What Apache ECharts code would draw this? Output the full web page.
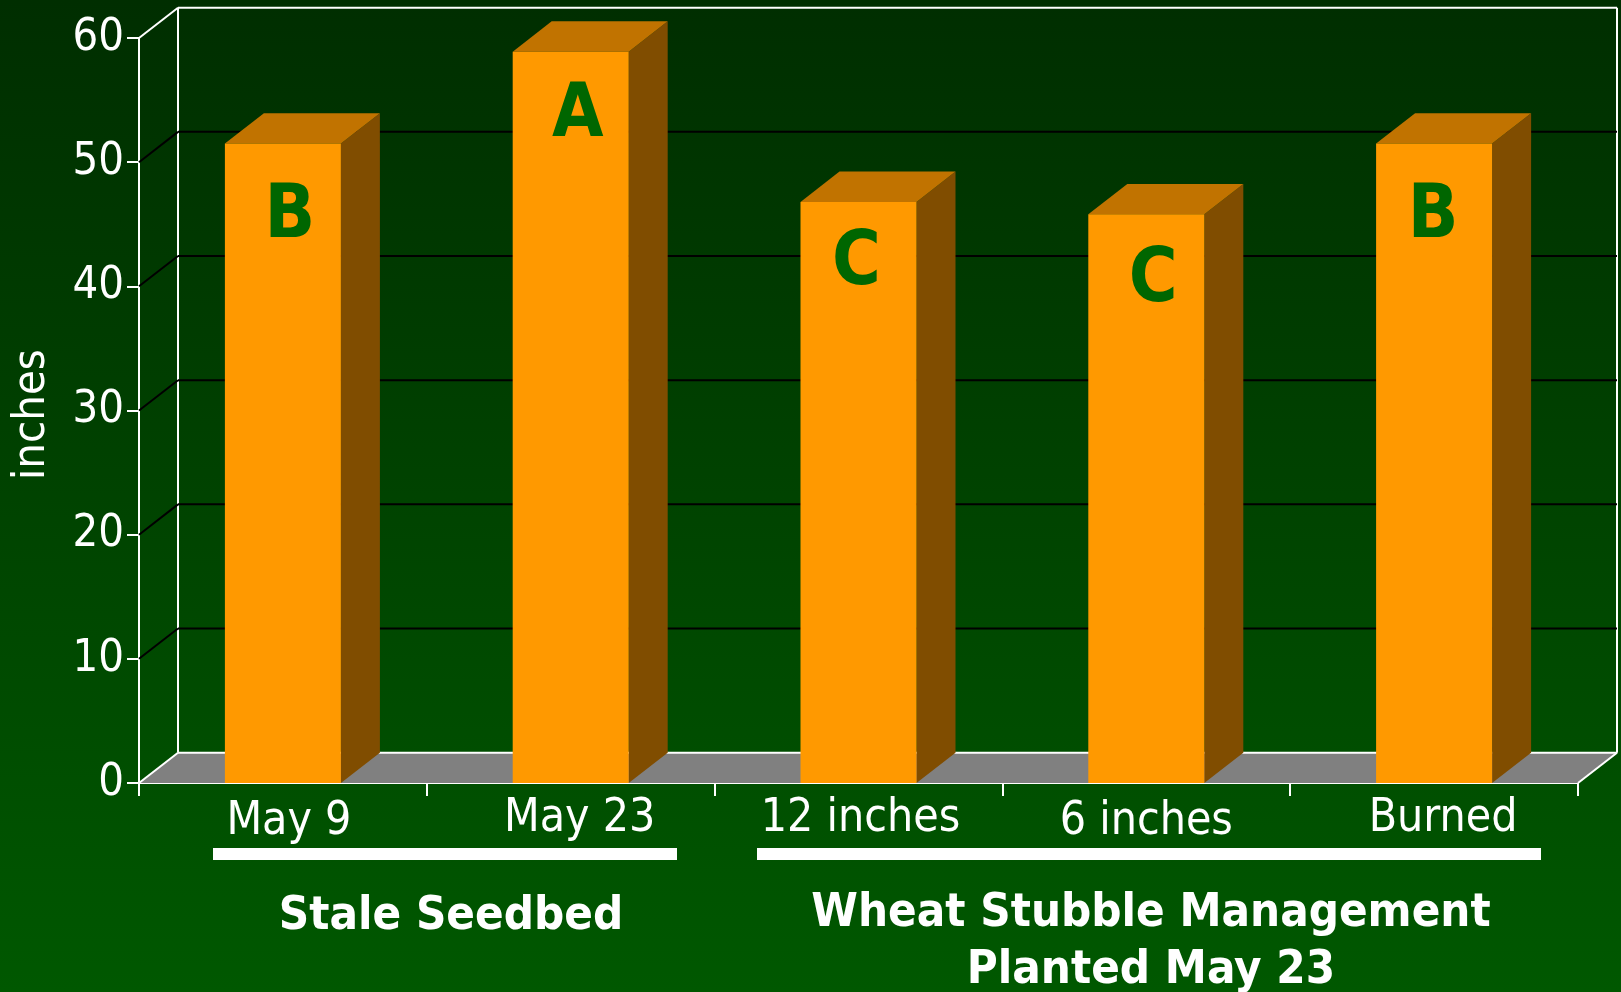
<!DOCTYPE html>
<html><head><meta charset="utf-8">
<style>html,body{margin:0;padding:0;background:#003000}#c{width:1621px;height:992px}</style>
<script src="https://cdn.jsdelivr.net/npm/echarts@6/dist/echarts.min.js"></script>
</head><body><div id="c"></div>
<script>
const categories = ['May 9','May 23','12 inches','6 inches','Burned'];
const values = [51.5, 58.9, 46.8, 45.8, 51.5];
const letters = ['B','A','C','C','B'];
const yTicks = [0,10,20,30,40,50,60];
const groupNames = ['Stale Seedbed','Wheat Stubble Management\nPlanted May 23'];

const FONT = '"DejaVu Sans Condensed","DejaVu Sans",sans-serif';
const depthX = 39, depthY = 30.3;
const barW = 116;
const labelShift = [[6,3],[9,0],[2,0],[0,3],[9,0]];
const letterShift = [[7,74],[7,65],[-2,63],[7,67],[-1,74]];

function poly(pts, fill, stroke){
  return {type:'polygon', shape:{points:pts}, style:{fill, stroke:stroke||null, lineWidth:stroke?1:0}};
}
function line(a,b,color,w){
  return {type:'line', shape:{x1:a[0],y1:a[1],x2:b[0],y2:b[1]}, style:{stroke:color,lineWidth:w}};
}
const chart = echarts.init(document.getElementById('c'), null, {renderer:'canvas'});
chart.setOption({
  animation:false,
  backgroundColor:{type:'linear',x:0,y:0,x2:0,y2:1,colorStops:[{offset:0,color:'#002e00'},{offset:1,color:'#005800'}]},
  grid:{left:139,right:43,top:38,bottom:209,outerBoundsMode:'none'},
  xAxis:{type:'category',data:categories.map((c,i)=>({value:c,textStyle:{
      padding:[labelShift[i][1],labelShift[i][0]<0?-2*labelShift[i][0]:0,0,labelShift[i][0]>0?2*labelShift[i][0]:0]}})),
    axisLine:{lineStyle:{color:'#fff',width:2}},
    axisTick:{show:true,length:13,alignWithLabel:false,lineStyle:{color:'#fff',width:2}},
    axisLabel:{color:'#fff',fontFamily:FONT,fontSize:46,margin:13,interval:0},
    splitLine:{show:false}},
  yAxis:{type:'value',min:0,max:60,interval:10,
    name:'inches',nameLocation:'middle',nameRotate:90,nameGap:84,
    nameTextStyle:{color:'#fff',fontFamily:FONT,fontSize:45,padding:[0,8,0,0]},
    axisLine:{show:true,lineStyle:{color:'#fff',width:2}},
    axisTick:{show:true,length:12,lineStyle:{color:'#fff',width:2}},
    axisLabel:{color:'#fff',fontFamily:FONT,fontSize:45,margin:15,padding:[28,0,0,0]},
    splitLine:{show:false}},
  graphic:[
    {type:'rect',shape:{x:213,y:848,width:464,height:12},style:{fill:'#fff'}},
    {type:'rect',shape:{x:757,y:848,width:784,height:12},style:{fill:'#fff'}},
    {type:'text',x:451,y:917,style:{text:groupNames[0],fill:'#fff',font:'bold 47px '+FONT,textAlign:'center',textVerticalAlign:'middle'}},
    {type:'text',x:1151,y:942,style:{text:groupNames[1],fill:'#fff',font:'bold 47px '+FONT,textAlign:'center',textVerticalAlign:'middle',lineHeight:57}}
  ],
  series:[
    {type:'custom',name:'frame',coordinateSystem:'cartesian2d',z:1,silent:true,
     data:yTicks.map(t=>[0,t]),
     renderItem(params,api){
       const v=api.value(1);
       const L=api.coord([0,v]); const left=params.coordSys.x; const right=left+params.coordSys.width;
       const y=L[1]; const c=(v===0||v===60)?'#fff':'#000';
       const kids=[];
       if(v===0){
         kids.push(poly([[left,y],[left+depthX,y-depthY],[right+depthX,y-depthY],[right,y]],'#808080'));
         kids.push(line([right,y],[right+depthX,y-depthY],'#fff',2));
         kids.push(line([left+depthX,y-depthY],[left+depthX,y-depthY-745],'#fff',2));
         kids.push(line([right+depthX,y-depthY],[right+depthX,y-depthY-745],'#fff',2));
       }
       kids.push(line([left,y],[left+depthX,y-depthY],c,2));
       kids.push(line([left+depthX,y-depthY],[right+depthX,y-depthY],c,2));
       return {type:'group',children:kids};
     }},
    {type:'custom',name:'inches',coordinateSystem:'cartesian2d',z:3,
     data:values.map((v,i)=>[i,v]),
     renderItem(params,api){
       const i=params.dataIndex;
       const top=api.coord([i,api.value(1)]), base=api.coord([i,0]);
       const x0=top[0]-barW/2,x1=top[0]+barW/2,yT=top[1],yB=base[1];
       return {type:'group',children:[
         poly([[x1,yB],[x1,yT],[x1+depthX,yT-depthY],[x1+depthX,yB-depthY]],'#804d00'),
         poly([[x0,yT],[x0+depthX,yT-depthY],[x1+depthX,yT-depthY],[x1,yT]],'#c17300'),
         {type:'rect',shape:{x:x0,y:yT,width:barW,height:yB-yT},style:{fill:'#ff9900'}},
         {type:'text',x:top[0]+letterShift[i][0],y:yT+letterShift[i][1],
          style:{text:letters[i],fill:'#006600',font:'bold 74px '+FONT,textAlign:'center',textVerticalAlign:'middle'}}
       ]};
     }}
  ]
});
</script></body></html>
